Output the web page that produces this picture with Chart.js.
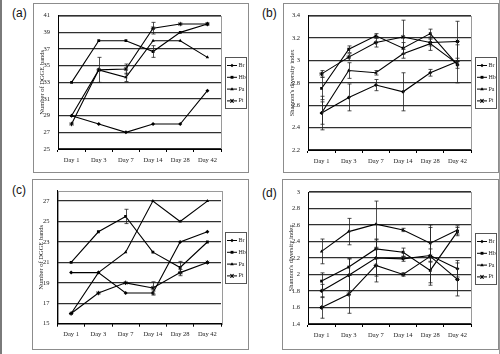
<!DOCTYPE html>
<html><head><meta charset="utf-8">
<script src="https://cdn.jsdelivr.net/npm/chart.js@4.4.1/dist/chart.umd.min.js"></script>
<style>
html,body{margin:0;padding:0;background:#fff;}
#wrap{position:relative;width:500px;height:354px;overflow:hidden;background:#fff;box-sizing:border-box;border-left:2px solid #7a7a7a;border-right:1px solid #9a9a9a;}
.box{position:absolute;border:1px solid #8c8c8c;box-sizing:border-box;}
canvas{position:absolute;}
.lab{position:absolute;font:12px "Liberation Sans",Arial,sans-serif;color:#111;line-height:12px;}
</style></head><body>
<div id="wrap">
  <div class="lab" style="left:10px;top:7px">(a)</div>
  <div class="lab" style="left:260px;top:7px">(b)</div>
  <div class="lab" style="left:10px;top:184px">(c)</div>
  <div class="lab" style="left:260px;top:187px">(d)</div>
  <div class="box" style="left:31px;top:3px;width:216px;height:170px"></div>
  <div class="box" style="left:281px;top:3px;width:216px;height:170px"></div>
  <div class="box" style="left:30px;top:179px;width:217px;height:171px"></div>
  <div class="box" style="left:280px;top:179px;width:217px;height:171px"></div>
  <canvas id="cA" width="216" height="170" style="left:31px;top:3px"></canvas>
  <canvas id="cB" width="216" height="170" style="left:281px;top:3px"></canvas>
  <canvas id="cC" width="217" height="171" style="left:30px;top:179px"></canvas>
  <canvas id="cD" width="217" height="171" style="left:280px;top:179px"></canvas>
</div>
<script>
// ---------- data ----------
const categories = ['Day 1', 'Day 3', 'Day 7', 'Day 14', 'Day 28', 'Day 42'];
const seriesNames = ['Br', 'Hb', 'Pa', 'Pt'];
const markerStyles = ['rectRot', 'rect', 'triangle', 'star'];

// (a) Number of DGGE bands
const aBr = [29, 28, 27, 28, 28, 32];
const aHb = [33, 38, 38, 36.7, 39, 40];
const aPa = [29, 34.5, 33.6, 38, 38, 36];
const aPt = [28, 34.5, 34.6, 39.5, 40, 40];
const aBrErr = [0, 0, 0, 0, 0, 0];
const aHbErr = [0, 0, 0, 0.7, 0, 0];
const aPaErr = [0, 1.5, 0.5, 0, 0, 0];
const aPtErr = [0, 0, 0.6, 0.7, 0, 0];
const aTicks = [25, 27, 29, 31, 33, 35, 37, 39, 41];

// (b) Shannon's diversity index
const bBr = [2.53, 2.67, 2.78, 2.72, 2.89, 2.99];
const bHb = [2.75, 3.10, 3.22, 3.11, 3.24, 2.96];
const bPa = [2.53, 2.91, 2.89, 3.06, 3.15, 2.97];
const bPt = [2.88, 3.03, 3.16, 3.21, 3.16, 3.17];
const bBrErr = [0.15, 0.12, 0.05, 0.17, 0.03, 0.03];
const bHbErr = [0.1, 0.03, 0.02, 0.05, 0.04, 0.03];
const bPaErr = [0.1, 0.07, 0.02, 0.04, 0.06, 0.17];
const bPtErr = [0.03, 0.03, 0.04, 0.15, 0.03, 0.18];
const bTicks = [2.2, 2.4, 2.6, 2.8, 3, 3.2, 3.4];

// (c) Number of DGGE bands
const cBr = [20, 20, 18, 18, 23, 24];
const cHb = [21, 24, 25.5, 22, 20.5, 23];
const cPa = [16, 20, 22, 27, 25, 27];
const cPt = [16, 18, 19, 18.5, 20, 21];
const cBrErr = [0, 0, 0, 0.2, 0, 0];
const cHbErr = [0, 0, 0.7, 0, 0.6, 0];
const cPaErr = [0, 0, 0, 0, 0, 0];
const cPtErr = [0, 0, 0, 0.6, 0.3, 0];
const cTicks = [15, 17, 19, 21, 23, 25, 27];

// (d) Shannon's diversity index
const dBr = [1.80, 1.99, 2.20, 2.19, 2.23, 2.07];
const dHb = [1.92, 2.09, 2.31, 2.27, 2.05, 2.52];
const dPa = [2.28, 2.52, 2.61, 2.54, 2.38, 2.54];
const dPt = [1.60, 1.76, 2.11, 2.00, 2.22, 1.94];
const dBrErr = [0.08, 0.2, 0.22, 0.03, 0.08, 0.1];
const dHbErr = [0.1, 0.1, 0.12, 0.05, 0.15, 0.05];
const dPaErr = [0.15, 0.16, 0.28, 0.02, 0.22, 0.05];
const dPtErr = [0.13, 0.23, 0.2, 0.02, 0.35, 0.2];
const dTicks = [1.4, 1.6, 1.8, 2, 2.2, 2.4, 2.6, 2.8, 3];

// ---------- helpers ----------
const SERIF = '"Liberation Serif","Times New Roman",serif';

function drawMarker(ctx, style, x, y, r) {
  ctx.save();
  ctx.fillStyle = '#000'; ctx.strokeStyle = '#000'; ctx.lineWidth = 1;
  ctx.beginPath();
  if (style === 'rectRot') {
    ctx.moveTo(x, y - r); ctx.lineTo(x + r, y); ctx.lineTo(x, y + r); ctx.lineTo(x - r, y); ctx.closePath(); ctx.fill();
  } else if (style === 'rect') {
    ctx.rect(x - r * 0.8, y - r * 0.8, r * 1.6, r * 1.6); ctx.fill();
  } else if (style === 'triangle') {
    ctx.moveTo(x, y - r); ctx.lineTo(x + r, y + r * 0.7); ctx.lineTo(x - r, y + r * 0.7); ctx.closePath(); ctx.fill();
  } else {
    ctx.moveTo(x - r, y - r); ctx.lineTo(x + r, y + r); ctx.moveTo(x + r, y - r); ctx.lineTo(x - r, y + r);
    ctx.moveTo(x, y - r); ctx.lineTo(x, y + r); ctx.stroke();
  }
  ctx.restore();
}

const framePlugin = {
  id: 'frame',
  beforeDraw(chart) {
    const {ctx, chartArea: a} = chart;
    ctx.save();
    ctx.strokeStyle = '#9a9a9a'; ctx.lineWidth = 1;
    ctx.strokeRect(Math.round(a.left) + 0.5, Math.round(a.top) + 0.5, Math.round(a.right - a.left), Math.round(a.bottom - a.top));
    ctx.restore();
  }
};

const errorBarPlugin = {
  id: 'errbars',
  afterDatasetsDraw(chart) {
    const {ctx} = chart;
    const ys = chart.scales.y;
    chart.data.datasets.forEach((ds, di) => {
      const meta = chart.getDatasetMeta(di);
      ds.errors.forEach((e, i) => {
        if (!e) return;
        const x = Math.round(meta.data[i].x) + 0.5;
        const y1 = ys.getPixelForValue(ds.data[i] + e);
        const y2 = ys.getPixelForValue(ds.data[i] - e);
        ctx.save();
        ctx.strokeStyle = '#222'; ctx.lineWidth = 0.8;
        ctx.beginPath();
        ctx.moveTo(x, y1); ctx.lineTo(x, y2);
        ctx.moveTo(x - 2, y1); ctx.lineTo(x + 2, y1);
        ctx.moveTo(x - 2, y2); ctx.lineTo(x + 2, y2);
        ctx.stroke();
        ctx.restore();
      });
    });
  }
};

const legendPlugin = {
  id: 'boxlegend',
  afterDraw(chart) {
    const {ctx, chartArea: a} = chart;
    const lx = Math.round(a.right) + 4, lw = 21, lh = 51;
    const ly = Math.round((a.top + a.bottom) / 2 - lh / 2);
    ctx.save();
    ctx.strokeStyle = '#555'; ctx.lineWidth = 1;
    ctx.strokeRect(lx + 0.5, ly + 0.5, lw, lh);
    chart.data.datasets.forEach((ds, i) => {
      const y = ly + 8.5 + i * 11.8;
      ctx.strokeStyle = '#000'; ctx.lineWidth = 1;
      ctx.beginPath(); ctx.moveTo(lx + 2, y); ctx.lineTo(lx + 12, y); ctx.stroke();
      drawMarker(ctx, ds.pointStyle, lx + 7, y, 1.8);
      ctx.fillStyle = '#222';
      ctx.font = '6px ' + SERIF;
      ctx.textBaseline = 'middle'; ctx.textAlign = 'left';
      ctx.fillText(ds.label, lx + 13.5, y);
    });
    ctx.restore();
  }
};

function makeChart(id, series, errs, tickVals, yMin, yMax, title, geo) {
  const datasets = series.map((d, i) => ({
    label: seriesNames[i],
    data: d,
    errors: errs[i],
    borderColor: '#000',
    backgroundColor: '#000',
    borderWidth: 1.1,
    pointStyle: markerStyles[i],
    pointRadius: markerStyles[i] === 'star' ? 2.2 : 2,
    pointBorderWidth: markerStyles[i] === 'star' ? 1 : 0,
    tension: 0
  }));
  return new Chart(document.getElementById(id), {
    type: 'line',
    data: {labels: categories, datasets},
    options: {
      responsive: false,
      animation: false,
      events: [],
      layout: {padding: {left: 0, right: geo.right, top: geo.top, bottom: 0}},
      plugins: {legend: {display: false}, tooltip: {enabled: false}},
      scales: {
        x: {
          type: 'category',
          offset: true,
          grid: {offset: true, drawOnChartArea: false, tickLength: 3, color: '#000', lineWidth: 1},
          border: {color: '#000', width: 1},
          ticks: {font: {family: SERIF, size: 6.5}, color: '#222', padding: 4, maxRotation: 0, autoSkip: false},
          afterFit(s) { s.height = geo.xh; }
        },
        y: {
          min: yMin, max: yMax,
          grid: {color: '#303030', lineWidth: 1.3, drawTicks: false},
          border: {color: '#000', width: 1},
          afterBuildTicks(s) { s.ticks = tickVals.map(v => ({value: v})); },
          ticks: {font: {family: SERIF, size: 6.5}, color: '#222', padding: 8,
                  callback: v => String(+Number(v).toFixed(1))},
          title: {display: true, text: title, font: {family: SERIF, size: 6.5}, color: '#222', padding: {top: 5, bottom: 0}},
          afterFit(s) { s.width = geo.yw; }
        }
      }
    },
    plugins: [framePlugin, errorBarPlugin, legendPlugin]
  });
}

makeChart('cA', [aBr, aHb, aPa, aPt], [aBrErr, aHbErr, aPaErr, aPtErr], aTicks, 25, 41,
  'Number of DGGE bands', {right: 28, top: 12.7, xh: 24, yw: 25});
makeChart('cB', [bBr, bHb, bPa, bPt], [bBrErr, bHbErr, bPaErr, bPtErr], bTicks, 2.2, 3.4,
  "Shannon's diversity index", {right: 28, top: 12.7, xh: 23, yw: 25});
makeChart('cC', [cBr, cHb, cPa, cPt], [cBrErr, cHbErr, cPaErr, cPtErr], cTicks, 15, 28,
  'Number of DGGE bands', {right: 28, top: 11, xh: 26.3, yw: 25.5});
makeChart('cD', [dBr, dHb, dPa, dPt], [dBrErr, dHbErr, dPaErr, dPtErr], dTicks, 1.4, 3,
  "Shannon's diversity index", {right: 28, top: 13, xh: 26, yw: 26});
</script>
</body></html>
